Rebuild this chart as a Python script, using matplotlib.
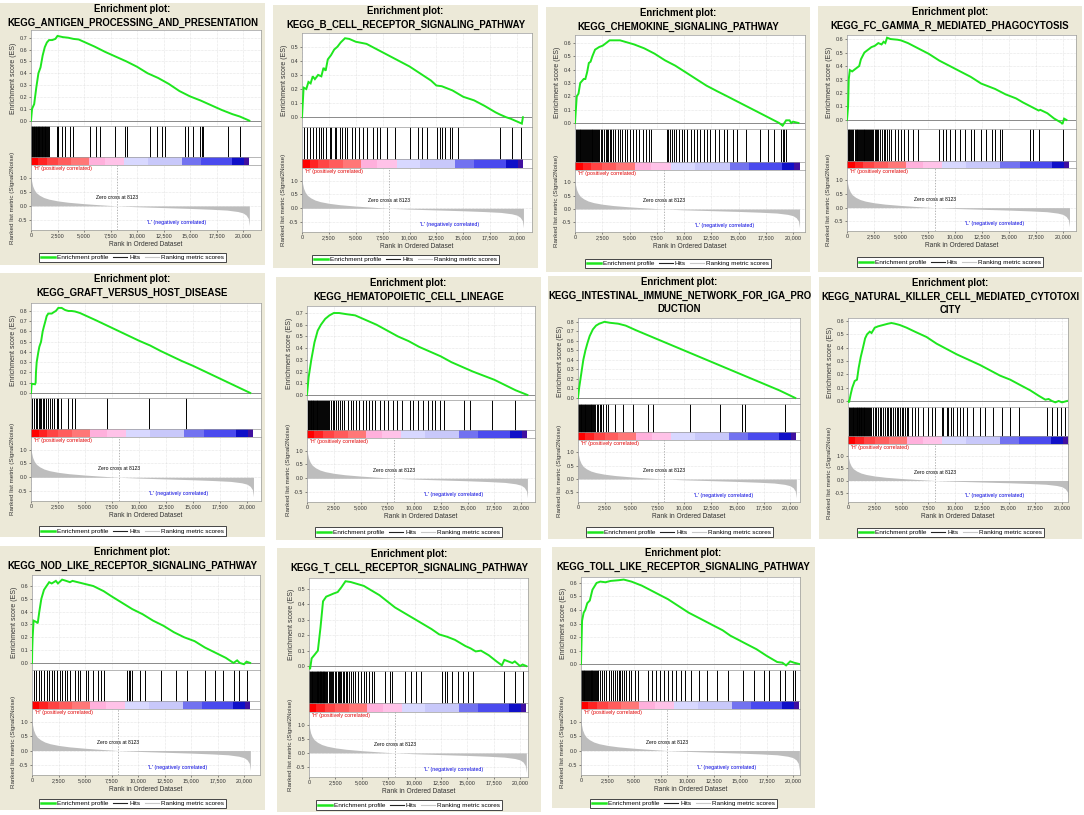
import matplotlib
matplotlib.use('Agg')
import matplotlib.pyplot as plt
from matplotlib.lines import Line2D
from matplotlib.ticker import FuncFormatter, FixedLocator

plt.rcParams['font.family'] = ['Liberation Sans', 'DejaVu Sans']

# ---------------- data ----------------
METRIC_RANKS = [0, 50, 150, 300, 500, 800, 1200, 1700, 2500, 3500, 5000, 6500, 8123,
                10000, 12500, 15000, 17000, 18500, 19500, 20000, 20300, 20500, 20600]
METRIC_VALUES = [1.1, 0.9, 0.72, 0.58, 0.47, 0.38, 0.3, 0.24, 0.18, 0.13, 0.08, 0.04, 0.0,
                 -0.03, -0.06, -0.09, -0.12, -0.15, -0.2, -0.25, -0.33, -0.45, -0.7]
ZERO_CROSS = 8123

HEAT_EDGES = [0, 700, 1500, 2500, 3800, 5500, 7000, 8800, 11000, 14200, 16000, 19000, 20100, 20600]
HEAT_COLORS = ['#ff0000', '#ff2222', '#ff4444', '#ff5c5c', '#ff7777', '#ffb0dc', '#ffc2e8',
               '#d8d8ff', '#c8c8fa', '#7272f0', '#4a4aee', '#1010c8', '#4010a0']

X_TICKS = [0, 2500, 5000, 7500, 10000, 12500, 15000, 17500, 20000]
METRIC_TICKS = [-0.5, 0.0, 0.5, 1.0]

ANTIGEN_ES = [(0, 0), (100, 0.10), (300, 0.14), (500, 0.28), (700, 0.40), (900, 0.45), (1100, 0.55),
              (1300, 0.62), (1500, 0.66), (1700, 0.68), (2000, 0.68), (2300, 0.69), (2500, 0.715),
              (3000, 0.705), (3500, 0.70), (4000, 0.69), (4500, 0.685), (5000, 0.665), (6000, 0.625),
              (7000, 0.58), (8000, 0.54), (9000, 0.50), (10000, 0.455), (11000, 0.40), (12000, 0.36),
              (13000, 0.31), (14000, 0.25), (15000, 0.205), (16000, 0.17), (17000, 0.13), (18000, 0.09),
              (19000, 0.055), (19700, 0.035), (20600, 0.0)]
ANTIGEN_HITS = [30, 80, 140, 200, 260, 330, 400, 450, 500, 560, 620, 680, 740, 800, 860, 930, 1000,
                1060, 1130, 1200, 1280, 1350, 1430, 1510, 1600, 1690, 2480, 2530, 2580, 2890, 3210,
                3680, 3990, 5570, 6130, 6510, 7930, 8870, 9030, 11230, 11860, 12330, 12640, 14530,
                14840, 15250, 15950, 16100, 16260, 18620, 19720]

BCELL_ES = [(0, 0), (150, 0.21), (400, 0.20), (600, 0.25), (800, 0.24), (1000, 0.29), (1200, 0.27),
            (1500, 0.30), (1800, 0.29), (2000, 0.35), (2200, 0.33), (2400, 0.41), (2700, 0.44),
            (3000, 0.48), (3300, 0.50), (3600, 0.53), (4000, 0.56), (4400, 0.555), (5000, 0.535),
            (6000, 0.52), (7000, 0.48), (8000, 0.44), (9000, 0.40), (10000, 0.36), (11000, 0.31),
            (12000, 0.26), (12500, 0.225), (13000, 0.22), (14000, 0.19), (15000, 0.145), (16000, 0.12),
            (17000, 0.08), (18000, 0.035), (18400, 0.02), (19000, 0.0), (19400, -0.01), (20000, -0.03),
            (20450, -0.045), (20550, 0.0)]
BCELL_HITS = [187, 467, 778, 1026, 1337, 1586, 1804, 1959, 2208, 2581, 2737, 3048, 3204, 3577, 3763,
              3981, 4199, 4696, 4914, 5318, 5691, 6002, 6624, 6935, 7246, 7868, 8646, 10045, 10823,
              11134, 11600, 12533, 12844, 13000, 13311, 13777, 13933, 14555, 18440, 19531, 20370]

CHEMOKINE_ES = [(0, 0), (160, 0.2), (320, 0.22), (480, 0.30), (800, 0.33), (950, 0.33), (1110, 0.38),
                (1270, 0.45), (1430, 0.46), (1590, 0.50), (1840, 0.55), (2220, 0.57), (2540, 0.58),
                (2860, 0.60), (3175, 0.62), (4130, 0.62), (4760, 0.605), (5400, 0.59), (6350, 0.56),
                (7300, 0.52), (8255, 0.47), (9200, 0.43), (10160, 0.38), (11110, 0.33), (12065, 0.28),
                (13000, 0.24), (13970, 0.20), (14920, 0.16), (15875, 0.12), (16830, 0.08), (17780, 0.04),
                (18730, 0.0), (19050, -0.02), (19370, 0.02), (19680, 0.02), (19840, 0.0), (20000, 0.01),
                (20500, 0.0)]
CHEMOKINE_HITS = [60, 150, 230, 330, 420, 480, 560, 640, 760, 850, 930, 1020, 1110, 1180, 1270, 1350,
                  1430, 1520, 1590, 1680, 1760, 1840, 1950, 2050, 2150, 2220, 2380, 2500, 2650, 2860,
                  2950, 3050, 3175, 3300, 3500, 3700, 3900, 4130, 4350, 4600, 4800, 5000, 5300, 5600,
                  5900, 6200, 6500, 6800, 7000, 8400, 8550, 8700, 8900, 9100, 9300, 9500, 9800, 10000,
                  10300, 10600, 10900, 11200, 11500, 11800, 12100, 12400, 12800, 13200, 13650, 13950,
                  14450, 14900, 15700, 16950, 17750, 18250, 18900, 19050, 19200, 19400]

FCGAMMA_ES = [(0, 0), (100, 0.1), (160, 0.3), (260, 0.37), (480, 0.36), (800, 0.38), (1130, 0.40),
              (1290, 0.45), (1610, 0.50), (1935, 0.52), (2260, 0.54), (2580, 0.55), (2900, 0.57),
              (3200, 0.56), (3390, 0.58), (3550, 0.57), (3710, 0.61), (4030, 0.60), (4680, 0.595),
              (5000, 0.59), (5645, 0.57), (6610, 0.53), (7580, 0.49), (8550, 0.44), (9520, 0.40),
              (10480, 0.36), (11450, 0.32), (12420, 0.27), (13065, 0.25), (13710, 0.23), (14680, 0.19),
              (15650, 0.16), (16290, 0.13), (17260, 0.09), (17740, 0.07), (17900, 0.075), (18550, 0.05),
              (19190, 0.01), (19840, -0.02), (19950, -0.03), (20100, 0.01), (20320, 0.0)]
FCGAMMA_HITS = [80, 150, 230, 300, 380, 480, 600, 700, 800, 880, 960, 1050, 1130, 1210, 1290, 1370,
                1450, 1530, 1610, 1700, 1790, 1860, 1935, 2030, 2120, 2260, 2350, 2450, 2580, 2700,
                2800, 2900, 3050, 3200, 3390, 3550, 3710, 3900, 4100, 4400, 4700, 5000, 5300, 5650,
                6100, 6610, 8550, 8870, 9200, 9520, 10000, 10480, 10960, 11450, 11770, 12420, 12900,
                13390, 13710, 14190, 14360, 16940, 17260, 17740, 20000]

GRAFT_ES = [(0, 0), (60, 0.09), (370, 0.085), (430, 0.1), (460, 0.2), (525, 0.3), (680, 0.4),
            (770, 0.45), (930, 0.5), (1080, 0.6), (1200, 0.65), (1330, 0.7), (1450, 0.75), (1600, 0.775),
            (1920, 0.775), (2130, 0.79), (2300, 0.80), (2530, 0.83), (2840, 0.83), (3150, 0.81),
            (3460, 0.80), (3770, 0.80), (4080, 0.795), (4540, 0.78), (6000, 0.71), (8000, 0.61),
            (10000, 0.51), (10880, 0.47), (11000, 0.465), (12000, 0.41), (14000, 0.31), (14340, 0.295),
            (15000, 0.265), (17000, 0.165), (19000, 0.065), (20300, 0.0)]
GRAFT_HITS = [90, 310, 460, 590, 740, 830, 930, 1080, 1240, 1390, 1610, 1760, 1920, 2130, 2380, 2530,
              2780, 3460, 3770, 4080, 7010, 10880, 14340]

HEMATO_ES = [(0, 0), (150, 0.15), (400, 0.30), (700, 0.45), (1000, 0.55), (1300, 0.60), (1700, 0.65),
             (2100, 0.68), (2500, 0.70), (3000, 0.70), (3700, 0.69), (4500, 0.68), (5500, 0.64),
             (6500, 0.60), (7500, 0.55), (8500, 0.50), (9500, 0.46), (10500, 0.41), (11500, 0.37),
             (12500, 0.33), (13500, 0.28), (14500, 0.24), (15500, 0.20), (16500, 0.165), (17500, 0.13),
             (18500, 0.085), (19500, 0.04), (20600, 0.0)]
HEMATO_HITS = [50, 120, 200, 260, 330, 400, 460, 520, 600, 680, 750, 820, 900, 980, 1050, 1130, 1200,
               1280, 1360, 1450, 1550, 1650, 1750, 1850, 1950, 2100, 2250, 2400, 2500, 2700, 2900,
               3100, 3300, 3500, 3800, 4100, 4300, 4600, 4900, 5200, 5500, 5800, 6100, 6400, 6800,
               7200, 7600, 8000, 8400, 8900, 9600, 9900, 10400, 10800, 11300, 11700, 12000, 12400,
               12800, 14700, 15200, 17300, 19400]

INTESTINAL_ES = [(0, 0), (100, 0.1), (300, 0.25), (500, 0.4), (700, 0.5), (900, 0.58), (1100, 0.65),
                 (1400, 0.72), (1700, 0.76), (2000, 0.78), (2500, 0.80), (3000, 0.79), (3800, 0.78),
                 (4500, 0.76), (5500, 0.71), (7000, 0.64), (8500, 0.57), (10000, 0.50), (11500, 0.43),
                 (13000, 0.36), (14500, 0.29), (16000, 0.22), (17500, 0.15), (19000, 0.08), (20500, 0.0)]
INTESTINAL_HITS = [40, 110, 180, 250, 320, 400, 470, 540, 620, 700, 780, 860, 940, 1020, 1100, 1180,
                   1260, 1350, 1450, 1550, 1650, 1750, 1900, 2050, 2200, 2400, 2600, 2800, 3500, 4200,
                   5200, 6600, 7100, 10600, 13400, 15500, 15800, 19500]

NK_ES = [(0, 0), (100, -0.01), (250, 0.05), (400, 0.10), (625, 0.15), (840, 0.16), (1000, 0.25),
         (1190, 0.33), (1400, 0.40), (1600, 0.47), (1780, 0.50), (2030, 0.52), (2200, 0.51), (2500, 0.55),
         (2810, 0.56), (3280, 0.57), (3750, 0.58), (4060, 0.585), (4375, 0.58), (4840, 0.57), (5470, 0.55),
         (6250, 0.52), (7340, 0.48), (8280, 0.43), (9220, 0.39), (10160, 0.35), (11250, 0.31),
         (12340, 0.27), (13280, 0.23), (14220, 0.19), (15160, 0.16), (16090, 0.12), (17030, 0.08),
         (17810, 0.04), (18440, 0.01), (18750, 0.015), (19060, 0.0), (19375, -0.01), (19690, 0.0),
         (20000, -0.01), (20470, 0.0)]
NK_HITS = [50, 120, 200, 280, 350, 430, 500, 580, 650, 720, 800, 880, 960, 1000, 1050, 1120, 1190,
           1250, 1320, 1400, 1470, 1540, 1600, 1680, 1780, 1880, 1980, 2030, 2150, 2300, 2500, 2650,
           2810, 2950, 3100, 3280, 3450, 3600, 3750, 3900, 4060, 4200, 4375, 4550, 4700, 4840, 5000,
           5150, 5300, 5470, 5625, 5940, 6250, 6560, 7030, 7500, 7810, 8125, 8750, 8900, 9220, 9375,
           9590, 9840, 10160, 10470, 10720, 11090, 11720, 12340, 12810, 13590, 14375, 15160, 15940,
           18600, 19060, 19530, 19900, 20310]

NOD_ES = [(0, 0), (20, 0.1), (60, 0.2), (150, 0.33), (390, 0.32), (540, 0.31), (690, 0.40), (880, 0.50),
          (1130, 0.57), (1370, 0.60), (1620, 0.63), (1860, 0.62), (2250, 0.64), (2450, 0.62), (2840, 0.65),
          (3230, 0.64), (3580, 0.63), (3820, 0.64), (4310, 0.63), (4800, 0.62), (5290, 0.61), (5780, 0.60),
          (6760, 0.56), (7500, 0.52), (8480, 0.47), (9460, 0.42), (10440, 0.38), (11420, 0.33),
          (12400, 0.29), (13380, 0.24), (14360, 0.20), (15340, 0.17), (16320, 0.12), (17300, 0.08),
          (18280, 0.04), (19010, 0.0), (19350, 0.02), (19600, 0.0), (20000, -0.01), (20240, 0.01),
          (20580, 0.0)]
NOD_HITS = [150, 390, 640, 880, 1130, 1370, 1620, 1860, 2110, 2350, 2600, 2840, 3090, 3330, 3580,
            4070, 4310, 4560, 5050, 5290, 5780, 6270, 6520, 6760, 8970, 9110, 9210, 9460, 10190,
            10680, 12150, 13620, 14600, 16320, 17300, 18030, 19010, 19500, 20240]

TCELL_ES = [(0, -0.01), (100, -0.02), (250, 0.05), (490, 0.07), (840, 0.10), (1090, 0.25), (1330, 0.42),
            (1630, 0.45), (1980, 0.46), (2320, 0.47), (2720, 0.48), (3060, 0.51), (3460, 0.55),
            (3950, 0.545), (4690, 0.53), (5190, 0.52), (5680, 0.50), (6670, 0.46), (7410, 0.42),
            (8150, 0.38), (9140, 0.34), (10130, 0.30), (10870, 0.27), (11610, 0.24), (12350, 0.205),
            (13090, 0.19), (13830, 0.17), (14820, 0.13), (15310, 0.115), (15800, 0.095), (16300, 0.10),
            (17040, 0.07), (17780, 0.03), (18280, 0.005), (18520, 0.04), (19270, 0.02), (19510, 0.03),
            (20000, 0.0), (20250, 0.01), (20600, 0.0)]
TCELL_HITS = [40, 100, 180, 250, 330, 420, 490, 560, 640, 720, 780, 840, 900, 960, 1010, 1050, 1090,
              1130, 1180, 1230, 1280, 1330, 1380, 1450, 1530, 1630, 1750, 1850, 1980, 2100, 2200, 2320,
              2450, 2580, 2720, 2850, 2950, 3060, 3200, 3330, 3460, 3600, 3800, 3950, 4150, 4400,
              4690, 4900, 5190, 5450, 5680, 5950, 6200, 7200, 7700, 7900, 9140, 9630, 10130, 10620,
              12600, 12850, 13090, 13580, 14080, 14570, 15060, 15550, 18520, 19510, 20250]

TOLL_ES = [(0, 0), (100, 0.32), (250, 0.38), (400, 0.40), (590, 0.45), (830, 0.47), (1080, 0.55),
           (1470, 0.60), (1820, 0.61), (2300, 0.605), (2800, 0.615), (3540, 0.62), (4030, 0.625),
           (4760, 0.61), (5740, 0.58), (6970, 0.53), (8200, 0.48), (9180, 0.43), (10160, 0.38),
           (11150, 0.34), (12370, 0.29), (13360, 0.25), (14090, 0.21), (14830, 0.18), (15560, 0.15),
           (16550, 0.11), (17530, 0.06), (18510, 0.015), (19000, 0.01), (19350, -0.01), (19740, 0.02),
           (20100, 0.01), (20600, 0.0)]
TOLL_HITS = [40, 100, 170, 250, 330, 420, 500, 590, 680, 760, 830, 900, 960, 1020, 1080, 1150, 1220,
             1300, 1380, 1470, 1560, 1650, 1820, 2000, 2200, 2400, 2600, 2800, 3000, 3200, 3400, 3540,
             3700, 3850, 4030, 4250, 4500, 4760, 5100, 5400, 6340, 6700, 7070, 7460, 7800, 8200, 8600,
             9000, 9400, 9800, 10400, 11150, 11880, 12860, 13850, 15320, 16300, 17290, 17780, 18760,
             19250, 19980, 20230]

# ---------------- layout (pixel positions of each panel) ----------------
PANELS = [
    dict(title=['Enrichment plot:', 'KEGG_ANTIGEN_PROCESSING_AND_PRESENTATION'], es=ANTIGEN_ES, hits=ANTIGEN_HITS,
         box=(0, 3, 265, 265), x=(31, 243, 261), y=(30, 126, 157, 165, 230), leg=257.5, esl=(-0.045, 0.765), estop=0.7),
    dict(title=['Enrichment plot:', 'KEGG_B_CELL_RECEPTOR_SIGNALING_PATHWAY'], es=BCELL_ES, hits=BCELL_HITS,
         box=(273, 5, 538, 268), x=(302, 517, 532), y=(33, 127, 159, 168, 232), leg=259.5, esl=(-0.069, 0.597), estop=0.5),
    dict(title=['Enrichment plot:', 'KEGG_CHEMOKINE_SIGNALING_PATHWAY'], es=CHEMOKINE_ES, hits=CHEMOKINE_HITS,
         box=(546, 7, 810, 272), x=(575, 793, 805), y=(35, 129, 162, 170, 232), leg=263.5, esl=(-0.045, 0.66), estop=0.6),
    dict(title=['Enrichment plot:', 'KEGG_FC_GAMMA_R_MEDIATED_PHAGOCYTOSIS'], es=FCGAMMA_ES, hits=FCGAMMA_HITS,
         box=(818, 6, 1082, 272), x=(847, 1063, 1076), y=(35, 129, 161, 168, 231), leg=262, esl=(-0.067, 0.63), estop=0.6),
    dict(title=['Enrichment plot:', 'KEGG_GRAFT_VERSUS_HOST_DISEASE'], es=GRAFT_ES, hits=GRAFT_HITS,
         box=(0, 273, 265, 537), x=(31, 247, 261), y=(303, 398, 429, 437, 501), leg=531, esl=(-0.049, 0.878), estop=0.8),
    dict(title=['Enrichment plot:', 'KEGG_HEMATOPOIETIC_CELL_LINEAGE'], es=HEMATO_ES, hits=HEMATO_HITS,
         box=(276, 277, 541, 540), x=(307, 521, 535), y=(306, 400, 430, 438, 502), leg=532, esl=(-0.043, 0.76), estop=0.7),
    dict(title=['Enrichment plot:', 'KEGG_INTESTINAL_IMMUNE_NETWORK_FOR_IGA_PRO', 'DUCTION'], es=INTESTINAL_ES,
         hits=INTESTINAL_HITS, box=(548, 276, 811, 539), x=(578, 790, 800), y=(318, 404, 432, 440, 502), leg=532,
         esl=(-0.063, 0.84), estop=0.8),
    dict(title=['Enrichment plot:', 'KEGG_NATURAL_KILLER_CELL_MEDIATED_CYTOTOXI', 'CITY'], es=NK_ES, hits=NK_HITS,
         box=(819, 277, 1082, 539), x=(848, 1062, 1068), y=(318, 407, 436, 444, 502), leg=532.5, esl=(-0.045, 0.6225), estop=0.6),
    dict(title=['Enrichment plot:', 'KEGG_NOD_LIKE_RECEPTOR_SIGNALING_PATHWAY'], es=NOD_ES, hits=NOD_HITS,
         box=(0, 546, 265, 810), x=(32, 244, 260), y=(575, 670, 701, 709, 775), leg=803.5, esl=(-0.055, 0.686), estop=0.6),
    dict(title=['Enrichment plot:', 'KEGG_T_CELL_RECEPTOR_SIGNALING_PATHWAY'], es=TCELL_ES, hits=TCELL_HITS,
         box=(277, 548, 541, 812), x=(309, 520, 528), y=(578, 671, 703, 712, 777), leg=805, esl=(-0.032, 0.571), estop=0.5),
    dict(title=['Enrichment plot:', 'KEGG_TOLL_LIKE_RECEPTOR_SIGNALING_PATHWAY'], es=TOLL_ES, hits=TOLL_HITS,
         box=(552, 547, 815, 808), x=(581, 793, 800), y=(577, 670, 701, 709, 775), leg=803.5, esl=(-0.044, 0.644), estop=0.6),
]

W, H = 1084, 815
fig = plt.figure(figsize=(W / 100, H / 100), dpi=100)
fig.patch.set_facecolor('white')

BEIGE = '#ece9d8'
GREEN = '#1ee61e'
FRAME = '#9a9a9a'
TXT = '#333333'


def px_axes(x0, y0, x1, y1, **kw):
    return fig.add_axes([x0 / W, 1 - y1 / H, (x1 - x0) / W, (y1 - y0) / H], **kw)


def style(ax):
    for s in ax.spines.values():
        s.set_color(FRAME)
        s.set_linewidth(0.5)
    ax.tick_params(labelsize=3.9, length=1.5, width=0.4, pad=1, colors=TXT)


comma = FuncFormatter(lambda v, p: f'{int(v):,}')
onedec = FuncFormatter(lambda v, p: f'{v:.1f}')

for P in PANELS:
    bx0, by0, bx1, by1 = P['box']
    bg = px_axes(bx0, by0, bx1, by1, facecolor=BEIGE)
    bg.set_xticks([]); bg.set_yticks([])
    for s in bg.spines.values():
        s.set_visible(False)
    bg.set_zorder(-10)

    cx = (bx0 + bx1) / 2
    for i, line in enumerate(P['title']):
        fig.text(cx / W, 1 - (by0 + 6.0 + 13.5 * i) / H, line, ha='center', va='center',
                 fontsize=6.9, fontweight='bold', color='black')

    x0, x20, x1 = P['x']
    xmax = 20000 * (x1 - x0) / (x20 - x0)
    es_top, hits_top, heat_top, met_top, met_bot = P['y']

    ranks = [r for r, v in P['es']]
    vals = [v for r, v in P['es']]

    # enrichment score
    ax = px_axes(x0, es_top, x1, hits_top)
    style(ax)
    ax.set_xlim(0, xmax)
    ax.set_ylim(*P['esl'])
    ax.xaxis.set_major_locator(FixedLocator(X_TICKS))
    nt = int(round(P['estop'] * 10))
    ax.yaxis.set_major_locator(FixedLocator([k / 10 for k in range(nt + 1)]))
    ax.yaxis.set_major_formatter(onedec)
    ax.tick_params(axis='x', labelbottom=False, length=0)
    ax.grid(True, ls=(0, (1, 1.5)), color='#cfcfcf', lw=0.4)
    ax.axhline(0, color='#8a8a8a', lw=0.7, zorder=2)
    ax.plot(ranks, vals, color=GREEN, lw=1.4, zorder=3, solid_joinstyle='miter')
    ax.set_ylabel('Enrichment score (ES)', fontsize=5.0, color=TXT, labelpad=2)

    # hits + heat bar
    hx = px_axes(x0, hits_top, x1, met_top)
    style(hx)
    hx.set_xlim(0, xmax)
    hx.set_ylim(0, 1)
    hx.set_xticks([]); hx.set_yticks([])
    hf = (met_top - heat_top) / (met_top - hits_top)
    hx.vlines(P['hits'], hf, 1, color='black', lw=0.7)
    hx.broken_barh([(HEAT_EDGES[i], HEAT_EDGES[i + 1] - HEAT_EDGES[i]) for i in range(len(HEAT_COLORS))],
                   (0, hf), facecolors=HEAT_COLORS, lw=0)
    hx.axhline(hf, color=FRAME, lw=0.5)

    # ranked list metric
    mx = px_axes(x0, met_top, x1, met_bot)
    style(mx)
    mx.set_xlim(0, xmax)
    mx.set_ylim(-0.86, 1.46)
    mx.xaxis.set_major_locator(FixedLocator(X_TICKS))
    mx.xaxis.set_major_formatter(comma)
    mx.yaxis.set_major_locator(FixedLocator(METRIC_TICKS))
    mx.yaxis.set_major_formatter(onedec)
    mx.grid(True, ls=(0, (1, 1.5)), color='#cfcfcf', lw=0.4)
    mx.fill_between(METRIC_RANKS, METRIC_VALUES, 0, color='#bdbdbd', lw=0, zorder=2)
    mx.axvline(ZERO_CROSS, color='#999999', lw=0.5, ls=(0, (2, 2)), zorder=3)
    mx.text(0.012, 0.985, "'H' (positively correlated)", transform=mx.transAxes, color='#e00000',
            fontsize=3.8, ha='left', va='top')
    mx.text(ZERO_CROSS, 0.3, f'Zero cross at {ZERO_CROSS}', fontsize=3.6, ha='center', va='center', color='black')
    mx.text(13700, -0.6, "'L' (negatively correlated)", fontsize=3.8, ha='center', va='center', color='#0000dd')
    mx.set_xlabel('Rank in Ordered Dataset', fontsize=4.8, color=TXT, labelpad=1.5)
    mx.set_ylabel('Ranked list metric (Signal2Noise)', fontsize=4.5, color=TXT, labelpad=2)

    handles = [Line2D([], [], color=GREEN, lw=1.8, label='Enrichment profile'),
               Line2D([], [], color='#222222', lw=0.8, label='Hits'),
               Line2D([], [], color='#c8c8c8', lw=0.8, label='Ranking metric scores')]
    lg = fig.legend(handles=handles, loc='center', bbox_to_anchor=(cx / W, 1 - P['leg'] / H), ncol=3,
                    fontsize=4.6, frameon=True, fancybox=False, edgecolor='#444444', framealpha=1,
                    handlelength=2.2, handletextpad=0.3, columnspacing=0.7, borderpad=0.3, borderaxespad=0)
    lg.get_frame().set_linewidth(0.7)

fig.savefig('out.png', dpi=100, facecolor='white')
